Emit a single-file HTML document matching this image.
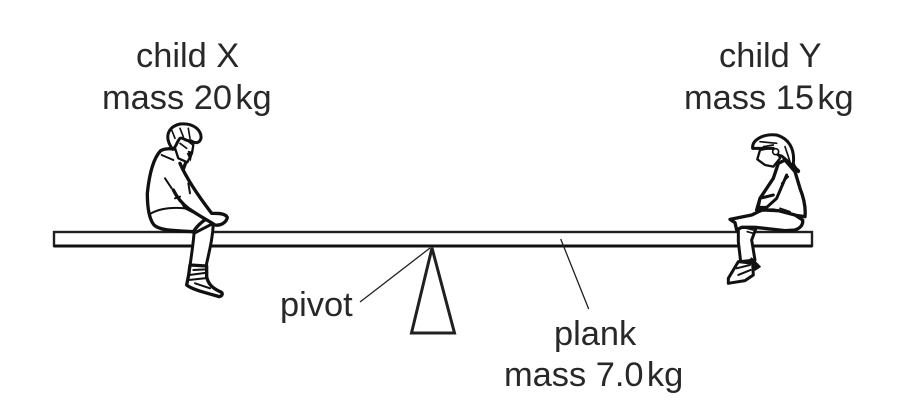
<!DOCTYPE html>
<html><head><meta charset="utf-8"><style>html,body{margin:0;padding:0;background:#fff}svg{display:block}text{font-family:"Liberation Sans",sans-serif;font-size:34.4px;fill:#2a2728}</style></head>
<body><svg width="911" height="415" viewBox="0 0 911 415" xmlns="http://www.w3.org/2000/svg">
<rect x="54" y="232" width="758" height="14" fill="#fff" stroke="#231f20" stroke-width="2.4"/>
<line x1="54" y1="246" x2="812" y2="246" stroke="#111" stroke-width="3"/>
<path d="M432 248L411.500 333H454.500Z" fill="#fff" stroke="#231f20" stroke-width="3"/>
<path d="M360 302L430 248M560.700 239L588.700 309" stroke="#231f20" stroke-width="1.300" fill="none"/>

<g transform="translate(130 110) scale(.3333)" stroke="#111" stroke-linejoin="round" stroke-linecap="round" fill="#fff">
<path d="M192 370C190 400 185 430 180 468L228 470C236 430 248 390 250 340Z" stroke-width="9"/>
<path d="M180 465L176 495L170 525C185 538 225 548 268 560C278 558 280 548 270 545C250 535 235 525 230 500L230 468Z" stroke-width="10"/>
<path d="M178 495L232 488M176 510L232 504M195 520L240 535M190 480L228 478" stroke-width="6" fill="none"/>
<path d="M92 122C70 145 58 190 52 250C52 285 56 325 72 345C85 358 110 362 190 365C200 350 215 335 232 325L165 292C150 265 140 245 150 205L170 150L140 118C125 115 105 115 92 122Z" stroke-width="10"/>
<path d="M150 160C165 195 195 245 245 310C265 310 285 310 292 322C290 338 270 348 255 345C240 335 215 322 175 295C155 280 140 260 130 240" stroke-width="10"/>
<path d="M60 312C80 300 110 290 165 295L225 325M105 205L125 235M150 260L135 265M175 220L180 250M95 135L130 150" stroke-width="6" fill="none"/>
<path d="M132 105L145 145L172 157L186 130L190 105L165 85L125 80Z" stroke-width="7"/>
<path d="M128 118C100 80 115 50 150 42C190 38 215 60 213 85C208 102 195 100 182 92C165 95 160 80 150 85C140 95 140 110 128 118Z" stroke-width="9"/>
<path d="M125 60L135 85M150 55L160 80M175 55L180 85M150 100L170 115M176 125L185 128" stroke-width="5" fill="none"/>
<path d="M170 130L190 120L182 155Z" fill="#111" stroke="none"/>
</g>

<g transform="translate(710 120) scale(.3333)" stroke="#111" stroke-linejoin="round" stroke-linecap="round" fill="#fff">
<path d="M85 315L85 365L92 425L135 420L125 360L140 320Z" stroke-width="9"/>
<path d="M125 415L150 440L135 450L100 440Z" fill="#111" stroke-width="5"/>
<path d="M85 425L55 475L55 490L105 482L130 465L128 430Z" stroke-width="9"/>
<path d="M80 445L120 435M85 465L122 450" stroke-width="6" fill="none"/>
<path d="M205 130L190 175L150 235L140 270L190 270L250 285L285 290C288 260 280 230 270 205L255 155L225 120Z" stroke-width="10"/>
<path d="M230 165L200 235L170 262L145 262L150 235L190 225" stroke-width="9"/>
<path d="M60 298L125 285C140 278 150 272 160 270L205 272L255 285L278 300C280 315 270 325 255 330L225 332L135 322L95 322L80 330L75 308Z" stroke-width="10"/>
<path d="M110 325L130 330M112 335L130 340M210 265L240 275M215 190L235 170" stroke-width="5" fill="none"/>
<path d="M150 90L142 118L165 135L190 140L210 115L200 80Z" stroke-width="7"/>
<path d="M128 85C125 60 160 40 200 45C235 55 255 85 250 130C255 150 270 150 265 155L235 125L215 108C205 108 190 95 190 85C170 85 145 85 128 85Z" stroke-width="9"/>
<path d="M150 65L200 70M225 80L240 125M160 80L190 75" stroke-width="5" fill="none"/>
<circle cx="197" cy="95" r="9" stroke-width="5"/>
</g>

<text x="136" y="67">child X</text>
<text x="102" y="109">mass 20<tspan font-size="12"> </tspan>kg</text>
<text x="719" y="67">child Y</text>
<text x="684" y="109">mass 15<tspan font-size="12"> </tspan>kg</text>
<text x="280" y="316">pivot</text>
<text x="554" y="345">plank</text>
<text x="504" y="386">mass 7.0<tspan font-size="12"> </tspan>kg</text>
</svg></body></html>
